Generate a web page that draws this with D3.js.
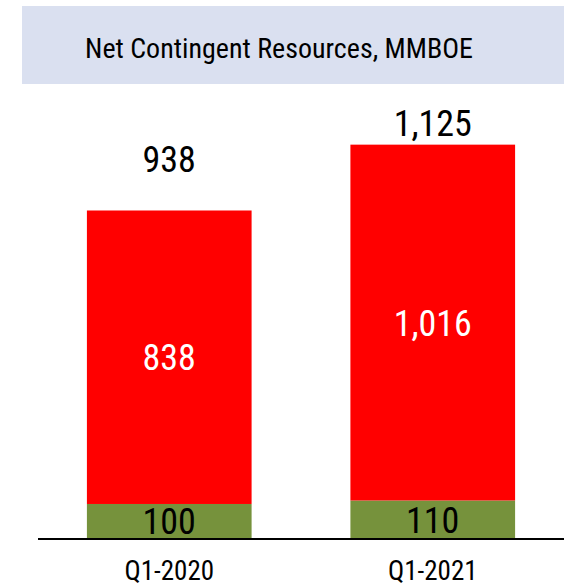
<!DOCTYPE html>
<html>
<head>
<meta charset="utf-8">
<script src="https://cdn.jsdelivr.net/npm/d3@7"></script>
<style>
  html, body { margin: 0; padding: 0; background: #ffffff; }
  svg { display: block; }
  text { font-family: "Liberation Sans Narrow", "Roboto Condensed", "DejaVu Sans Condensed", sans-serif; }
</style>
</head>
<body>
<svg id="chart" width="564" height="587"></svg>
<script>
// ---- data ----
const categories = ["Q1-2020", "Q1-2021"];
const greenValues = [100, 110];
const redValues = [838, 1016];
const totalValues = [938, 1125];
const chartTitle = "Net Contingent Resources, MMBOE";

// ---- layout ----
const W = 564, H = 587;
const totalLabelGap = [38, 9]; // label baseline distance above bar top
const svg = d3.select("#chart");
const fmt = d3.format(",");

// title band
svg.append("rect").attr("x", 22).attr("y", 6).attr("width", W - 22).attr("height", 78)
  .attr("fill", "#dae0f0");
svg.append("text").attr("x", 279).attr("y", 58).attr("text-anchor", "middle")
  .attr("font-size", 28).attr("fill", "#000").text(chartTitle);

const x = d3.scaleBand().domain(categories).range([37.5, 564.5])
  .paddingInner(0.375).paddingOuter(0.1875);
const y = d3.scaleLinear().domain([0, 1125]).range([539, 145]);

const rows = categories.map((c, i) => ({
  cat: c, green: greenValues[i], red: redValues[i], total: totalValues[i], i
}));

// green segments
svg.selectAll("rect.green").data(rows).join("rect").attr("class", "green")
  .attr("x", d => x(d.cat)).attr("width", x.bandwidth())
  .attr("y", d => y(d.green)).attr("height", d => y(0) - y(d.green))
  .attr("fill", "#76923c");

// red segments
svg.selectAll("rect.red").data(rows).join("rect").attr("class", "red")
  .attr("x", d => x(d.cat)).attr("width", x.bandwidth())
  .attr("y", d => y(d.green + d.red)).attr("height", d => y(d.green) - y(d.green + d.red))
  .attr("fill", "#ff0000");

// green labels
svg.selectAll("text.glab").data(rows).join("text").attr("class", "glab")
  .attr("x", d => x(d.cat) + x.bandwidth() / 2)
  .attr("y", d => (y(0) + y(d.green)) / 2)
  .attr("dy", "0.36em")
  .attr("text-anchor", "middle").attr("font-size", 36).attr("fill", "#000")
  .text(d => fmt(d.green));

// red labels
svg.selectAll("text.rlab").data(rows).join("text").attr("class", "rlab")
  .attr("x", d => x(d.cat) + x.bandwidth() / 2)
  .attr("y", d => (y(d.green) + y(d.green + d.red)) / 2)
  .attr("dy", "0.36em")
  .attr("text-anchor", "middle").attr("font-size", 36).attr("fill", "#fff")
  .text(d => fmt(d.red));

// total labels
svg.selectAll("text.tlab").data(rows).join("text").attr("class", "tlab")
  .attr("x", d => x(d.cat) + x.bandwidth() / 2)
  .attr("y", d => y(d.total) - totalLabelGap[d.i])
  .attr("text-anchor", "middle").attr("font-size", 36).attr("fill", "#000")
  .text(d => fmt(d.total));

// x axis
const xAxis = svg.append("g").attr("transform", `translate(0,${y(0)})`)
  .call(d3.axisBottom(x).tickSize(0).tickPadding(0));
xAxis.select(".domain").attr("stroke", "#000").attr("stroke-width", 2)
  .attr("d", `M38,0H${W}`);
xAxis.selectAll(".tick text").attr("font-size", 27).attr("fill", "#000")
  .attr("y", 41).attr("dy", 0)
  .style("font-family", '"Liberation Sans Narrow", "Roboto Condensed", "DejaVu Sans Condensed", sans-serif');
</script>
</body>
</html>
